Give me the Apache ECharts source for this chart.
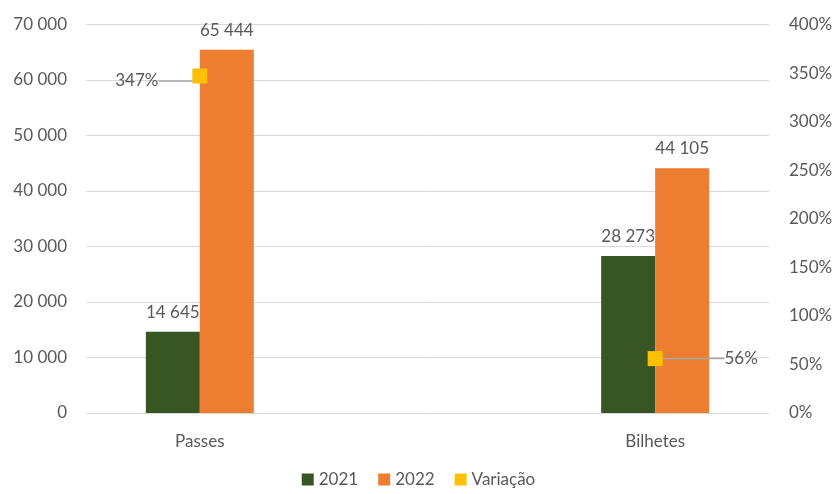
<!DOCTYPE html>
<html>
<head>
<meta charset="utf-8">
<script src="https://cdn.jsdelivr.net/npm/echarts@6/dist/echarts.min.js"></script>
<style>
  html, body { margin: 0; padding: 0; background: #fff; }
  #chart { width: 837px; height: 494px; }
</style>
</head>
<body>
<div id="chart"></div>
<script>
// categories (middle one is an empty spacer, as in the source sheet)
const categories = ["Passes", "", "Bilhetes"];
const values2021 = [14645, "-", 28273];
const values2022 = [65444, "-", 44105];
const variacao = [347, "-", 56];

const FONT = "Lato";
const TXT = "#595959";
const FS = 17;

// "65444" -> "65 444"
function fmt(v) {
    return String(v).replace(/\B(?=(\d{3})+(?!\d))/g, " ");
}

let chart = echarts.init(document.querySelector("#chart"));

let option = {
    animation: false,
    textStyle: { fontFamily: FONT },
    grid: { left: 86, right: 68, top: 24.5, bottom: 81 },
    legend: {
        bottom: 1,
        left: "center",
        icon: "rect",
        itemWidth: 12,
        itemHeight: 12,
        itemGap: 20,
        textStyle: { fontFamily: FONT, fontSize: FS, color: TXT },
        data: ["2021", "2022", "Variação"]
    },
    xAxis: {
        type: "category",
        data: categories,
        axisLine: { show: false },
        axisTick: { show: false },
        axisLabel: { fontFamily: FONT, fontSize: FS, color: TXT, margin: 20 }
    },
    yAxis: [
        {
            type: "value",
            min: 0,
            max: 70000,
            interval: 10000,
            axisLine: { show: false },
            axisTick: { show: false },
            splitLine: { lineStyle: { color: "#d9d9d9", width: 1 } },
            axisLabel: {
                fontFamily: FONT, fontSize: FS, color: TXT, margin: 19,
                formatter: v => fmt(v)
            }
        },
        {
            type: "value",
            min: 0,
            max: 400,
            interval: 50,
            axisLine: { show: false },
            axisTick: { show: false },
            splitLine: { show: false },
            axisLabel: {
                fontFamily: FONT, fontSize: FS, color: TXT, margin: 20,
                formatter: "{value}%"
            }
        }
    ],
    series: [
        {
            name: "2021",
            type: "bar",
            data: values2021,
            barWidth: 54,
            barGap: "0%",
            itemStyle: { color: "#375623" },
            label: {
                show: true, position: "top", distance: 11,
                fontFamily: FONT, fontSize: FS, color: TXT,
                formatter: p => fmt(p.value)
            }
        },
        {
            name: "2022",
            type: "bar",
            data: values2022,
            barWidth: 54,
            itemStyle: { color: "#ED7D31" },
            label: {
                show: true, position: "top", distance: 11,
                fontFamily: FONT, fontSize: FS, color: TXT,
                formatter: p => fmt(p.value)
            }
        },
        {
            name: "Variação",
            type: "scatter",
            yAxisIndex: 1,
            data: variacao,
            symbol: "rect",
            symbolSize: 15,
            itemStyle: { color: "#FFC000", opacity: 1 },
            z: 5,
            label: {
                show: true, position: "inside",
                fontFamily: FONT, fontSize: FS, color: TXT,
                textBorderWidth: 0,
                formatter: p => p.value + "%"
            },
            labelLine: { show: true, lineStyle: { color: "#a6a6a6", width: 1.5 } },
            labelLayout: function (params) {
                return params.dataIndex === 0 ? { dx: -63, dy: 5 } : { dx: 86, dy: 0 };
            }
        }
    ]
};

chart.setOption(option);
</script>
</body>
</html>
